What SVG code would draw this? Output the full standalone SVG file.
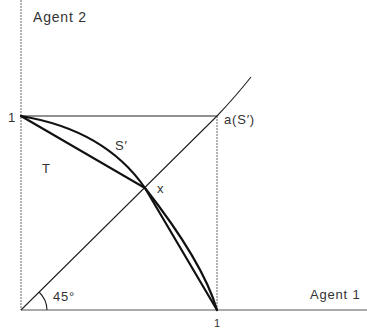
<svg xmlns="http://www.w3.org/2000/svg" width="367" height="331" viewBox="0 0 367 331">
<style>
.axis{stroke:#555;stroke-width:1;fill:none}
.dot{stroke:#666;stroke-width:1;fill:none;stroke-dasharray:2 1}
.thin{stroke:#222;stroke-width:1.1;fill:none}
.thick{stroke:#111;stroke-width:2.2;fill:none;stroke-linecap:round}
text{font-family:"Liberation Sans",Arial,sans-serif;font-size:13px;fill:#333;letter-spacing:0.8px}
</style>
<rect width="367" height="331" fill="#fff"/>
<g id="connectors">
<line class="dot" x1="21" y1="0" x2="21" y2="310"/>
<line class="axis" x1="21" y1="310" x2="367" y2="310"/>
<line class="dot" x1="217" y1="116" x2="217" y2="310"/>
<line class="thin" x1="21" y1="116" x2="217" y2="116" stroke-width="1.6"/>
<path class="thin" d="M21,310 L217,116 Q236,96 251,77"/>
<path class="thin" d="M47,310 A26,26 0 0 0 39,292"/>
<path class="thick" d="M21,116 L145,188 L217,310"/>
<path class="thick" d="M21,116 Q105,130 145,188 Q203,262 217,310"/>
</g>
<g id="labels">
<text x="33" y="22" style="font-size:14px">Agent 2</text>
<text x="8" y="122">1</text>
<text x="224" y="124">a(S′)</text>
<text x="115" y="150">S′</text>
<text x="42" y="173">T</text>
<text x="157" y="193">x</text>
<text x="53" y="301">45°</text>
<text x="310" y="299">Agent 1</text>
<text x="214" y="327" style="font-size:11px">1</text>
</g>
</svg>
